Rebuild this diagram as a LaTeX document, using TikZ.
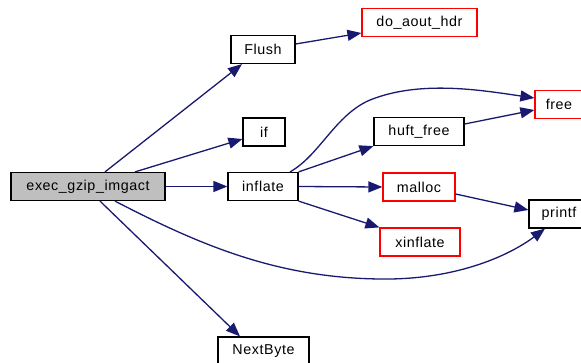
\documentclass[tikz,border=0pt]{standalone}
\usepackage{fontspec}
\setmainfont[LetterSpace=4]{Liberation Sans}
\usetikzlibrary{arrows.meta}
\definecolor{edgeblue}{HTML}{191970}
\definecolor{rootgray}{HTML}{BFBFBF}
\tikzset{
  fn/.style={draw=black, line width=1.2pt, fill=white, inner sep=0pt,
             minimum height=28pt, font=\fontsize{14.3pt}{16pt}\selectfont},
  ext/.style={fn, draw=red},
  root/.style={fn, fill=rootgray},
  call/.style={draw=edgeblue, line width=1.3pt,
               -{Triangle[length=14pt,width=11pt]}},
}
\begin{document}
\begin{tikzpicture}[x=1pt, y=-1pt]
  \useasboundingbox (0,0) rectangle (581,362);

  % functions
  \node[root, minimum width=154pt] (exec) at (88,186.5) {exec\_gzip\_imgact};
  \node[fn,  minimum width=64pt]  (flush) at (263,49.5) {Flush};
  \node[ext, minimum width=115pt] (aout) at (419.5,22.5) {do\_aout\_hdr};
  \node[fn,  minimum width=42pt]  (if) at (264,132) {if};
  \node[fn,  minimum width=70pt]  (inflate) at (263,186.5) {inflate};
  \node[fn,  minimum width=91pt]  (next) at (263.5,351) {NextByte};
  \node[fn,  minimum width=90pt]  (huft) at (419,131.5) {huft\_free};
  \node[ext, minimum width=72pt]  (malloc) at (419,187) {malloc};
  \node[ext, minimum width=80pt]  (xinflate) at (420,242) {xinflate};
  \node[ext, minimum width=48pt]  (free) at (559,104.5) {free};
  \node[fn,  minimum width=60pt]  (printf) at (559,214) {printf};

  % calls from exec_gzip_imgact
  \draw[call] ([xshift=17pt]exec.north) -- ([xshift=-21pt]flush.south);
  \draw[call] ([xshift=47pt]exec.north) -- ([yshift=-7pt]if.west);
  \draw[call] (exec.east) -- (inflate.west);
  \draw[call] ([xshift=12pt]exec.south) -- ([xshift=-23.5pt]next.north);
  \draw[call] ([xshift=27pt]exec.south)
    .. controls (200,245) and (280,280) .. (390,279)
    .. controls (460,278) and (510,255) .. ([xshift=-14pt]printf.south);

  % calls from Flush
  \draw[call] ([yshift=5.5pt]flush.east) -- ([yshift=-10.5pt]aout.west);

  % calls from inflate
  \draw[call] ([xshift=27pt]inflate.north)
    .. controls (320,155) and (335,115) .. (370,100)
    .. controls (420,80) and (480,90) .. ([yshift=6.5pt]free.west);
  \draw[call] (inflate.north east) -- (huft.south west);
  \draw[call] (inflate.east) -- (malloc.west);
  \draw[call] (inflate.south east) -- (xinflate.north west);

  % further calls
  \draw[call] ([yshift=7.5pt]huft.east) -- ([yshift=-5.5pt]free.west);
  \draw[call] ([yshift=-7pt]malloc.east) -- ([yshift=4pt]printf.west);
\end{tikzpicture}
\end{document}
